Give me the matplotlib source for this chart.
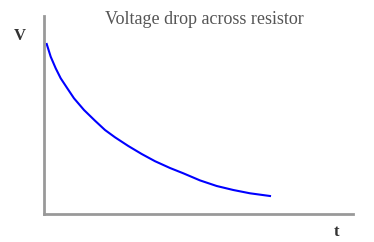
import matplotlib.pyplot as plt

# Curve (arbitrary units, t along x, V up)
t = [2.7, 6.7, 11.7, 16.7, 23.3, 30, 40, 51, 61, 71, 84.3, 97.7, 111, 126,
     139.3, 156, 172.7, 189.3, 206, 226]
v = [170, 157.3, 145.7, 135.7, 125.7, 115.7, 104, 93.3, 84, 76.7, 68, 60, 52.8,
     46, 40.7, 33.6, 28, 24, 20.7, 18]

title = 'Voltage drop across resistor'
xlabel = 't'
ylabel = 'V'

fig = plt.figure(figsize=(3.74, 2.42), dpi=100)
ax = fig.add_axes([44 / 374, 28 / 242, 309 / 374, 198 / 242])
ax.plot(t, v, color='blue', linewidth=1.5, solid_joinstyle='round')
ax.set_xlim(0, 309)
ax.set_ylim(0, 198)

for side in ['top', 'right']:
    ax.spines[side].set_visible(False)
for side in ['left', 'bottom']:
    ax.spines[side].set_color('#999999')
    ax.spines[side].set_linewidth(2)
ax.set_xticks([])
ax.set_yticks([])

fig.text(204 / 374, 1 - 20 / 242, title, ha='center', va='center',
         family='Liberation Serif', fontsize=13, color='#555555')
fig.text(20 / 374, 1 - 36 / 242, ylabel, ha='center', va='center',
         family='Liberation Serif', fontsize=12, fontweight='bold', color='#333333')
fig.text(337 / 374, 1 - 232 / 242, xlabel, ha='center', va='center',
         family='Liberation Serif', fontsize=12, fontweight='bold', color='#333333')

fig.savefig('out.png', dpi=100)
